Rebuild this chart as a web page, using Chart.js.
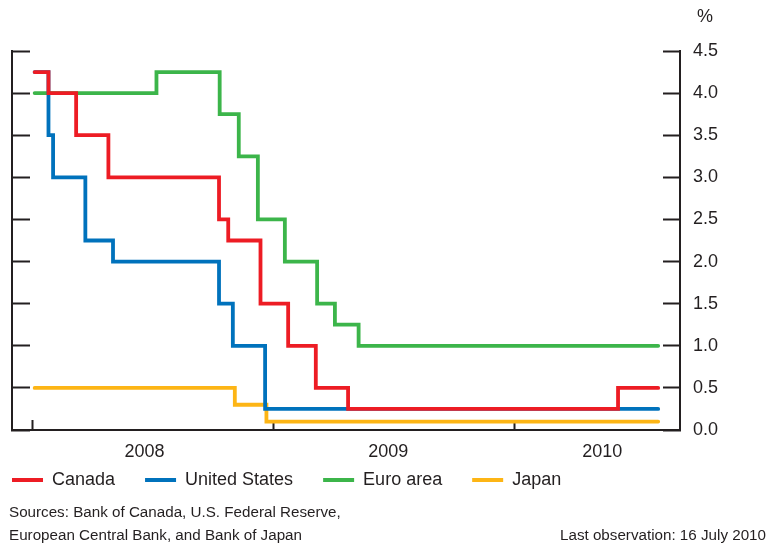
<!DOCTYPE html>
<html>
<head>
<meta charset="utf-8">
<script src="https://cdn.jsdelivr.net/npm/chart.js"></script>
<style>
  html, body { margin: 0; padding: 0; background: #fff; }
  #wrap { width: 768px; height: 546px; }
</style>
</head>
<body>
<div id="wrap"><canvas id="rates"></canvas></div>
<script>
// policy rates, %, weekly
const canadaDates = ['2008-01-04', '2008-01-25', '2008-03-07', '2008-04-25', '2008-10-10', '2008-10-24',
  '2008-12-12', '2009-01-23', '2009-03-06', '2009-04-24', '2010-06-08', '2010-08-08'];
const canadaRates = [4.25, 4.0, 3.5, 3.0, 2.5, 2.25, 1.5, 1.0, 0.5, 0.25, 0.5, 0.5];

const usDates = ['2008-01-04', '2008-01-25', '2008-02-01', '2008-03-21', '2008-05-02', '2008-10-10',
  '2008-10-31', '2008-12-19', '2010-08-08'];
const usRates = [4.25, 3.5, 3.0, 2.25, 2.0, 1.5, 1.0, 0.25, 0.25];

const euroDates = ['2008-01-04', '2008-07-07', '2008-10-11', '2008-11-09', '2008-12-08', '2009-01-18',
  '2009-03-08', '2009-04-04', '2009-05-10', '2010-08-08'];
const euroRates = [4.0, 4.25, 3.75, 3.25, 2.5, 2.0, 1.5, 1.25, 1.0, 1.0];

const japanDates = ['2008-01-04', '2008-11-03', '2008-12-21', '2010-08-08'];
const japanRates = [0.5, 0.3, 0.1, 0.1];

const seriesNames = ['Canada', 'United States', 'Euro area', 'Japan'];
const yearStarts = ['2008-01-01', '2009-01-01', '2010-01-01'];
const yearLabels = ['2008', '2009', '2010'];

const sourceLines = ['Sources: Bank of Canada, U.S. Federal Reserve,', 'European Central Bank, and Bank of Japan'];
const lastObs = 'Last observation: 16 July 2010';

const ink = '#231f20';
const colors = ['#ed1c24', '#0072bc', '#3cb54a', '#fdb515'];
const font = { family: '"Liberation Sans", Arial, Helvetica, sans-serif', size: 18 };

// days since 1 Jan 2008
const day = (s) => {
  const [y, m, d] = s.split('-').map(Number);
  return (Date.UTC(y, m - 1, d) - Date.UTC(2008, 0, 1)) / 86400000;
};

// where the year names sit under each year
const labelAt = ['2008-06-19', '2009-06-24', '2010-05-15'].map(day);
const isLabel = (v) => labelAt.some(a => Math.abs(a - v) < 0.5);

const toPoints = (dates, rates) => dates.map((d, i) => ({ x: day(d), y: rates[i] }));
const allSeries = [
  toPoints(canadaDates, canadaRates),
  toPoints(usDates, usRates),
  toPoints(euroDates, euroRates),
  toPoints(japanDates, japanRates)
];

const datasets = allSeries.map((pts, i) => ({
  label: seriesNames[i],
  data: pts,
  borderColor: colors[i],
  backgroundColor: colors[i],
  borderWidth: 3.8,
  stepped: true,
  pointRadius: 0,
  borderCapStyle: 'round',
  borderJoinStyle: 'miter',
  yAxisID: 'y'
}));

const notes = {
  id: 'notes',
  afterDraw(chart) {
    const c = chart.ctx;
    const yScale = chart.scales.y;
    c.save();
    c.fillStyle = ink;
    c.textBaseline = 'middle';
    c.font = '18px ' + font.family;
    c.textAlign = 'center';
    c.fillText('%', yScale.left + 25, 17);
    c.font = '15.2px ' + font.family;
    c.textAlign = 'left';
    c.fillText(sourceLines[0], 9, 513);
    c.fillText(sourceLines[1], 9, 536);
    c.textAlign = 'right';
    c.fillText(lastObs, 766, 536);
    c.restore();
  }
};

new Chart(document.getElementById('rates'), {
  type: 'line',
  data: { datasets },
  options: {
    responsive: true,
    maintainAspectRatio: false,
    animation: false,
    layout: { padding: { left: -18, right: 0, top: 51, bottom: 47 } },
    plugins: {
      legend: {
        position: 'bottom',
        align: 'start',
        labels: {
          boxWidth: 31,
          boxHeight: 4,
          padding: 30,
          color: ink,
          font,
          generateLabels: (chart) => Chart.defaults.plugins.legend.labels.generateLabels(chart)
            .map(l => ({ ...l, lineWidth: 0, fillStyle: l.strokeStyle }))
        }
      },
      tooltip: { enabled: false }
    },
    scales: {
      x: {
        type: 'linear',
        min: -31.4,
        max: 983.1,
        afterFit: (s) => { s.height = 11; },
        afterBuildTicks: (s) => {
          s.ticks = yearStarts.map(day).concat(labelAt)
            .sort((a, b) => a - b)
            .map(v => ({ value: v }));
        },
        ticks: {
          autoSkip: false,
          maxRotation: 0,
          // mirrored so the year names are not clipped to the thin axis box
          mirror: true,
          padding: -32.8,
          color: ink,
          font,
          callback: (v) => {
            const i = labelAt.findIndex(a => Math.abs(a - v) < 0.5);
            return i >= 0 ? yearLabels[i] : '';
          }
        },
        grid: {
          drawOnChartArea: false,
          tickLength: -10,
          tickWidth: 2,
          tickColor: (ctx) => (ctx.tick && isLabel(ctx.tick.value)) ? 'rgba(0,0,0,0)' : ink
        },
        border: { color: ink, width: 2 }
      },
      y: {
        position: 'right',
        min: 0,
        max: 4.5,
        afterFit: (s) => { s.width = 88; },
        ticks: {
          stepSize: 0.5,
          padding: 30,
          color: ink,
          font,
          callback: (v) => v.toFixed(1)
        },
        grid: { drawOnChartArea: false, tickLength: -17, tickWidth: 2, tickColor: ink },
        border: { color: ink, width: 2 }
      },
      yL: {
        position: 'left',
        min: 0,
        max: 4.5,
        afterFit: (s) => { s.width = 30; },
        ticks: { stepSize: 0.5, display: false },
        grid: { drawOnChartArea: false, tickLength: -18, tickWidth: 2, tickColor: ink },
        border: { color: ink, width: 2 }
      }
    }
  },
  plugins: [notes]
});
</script>
</body>
</html>
